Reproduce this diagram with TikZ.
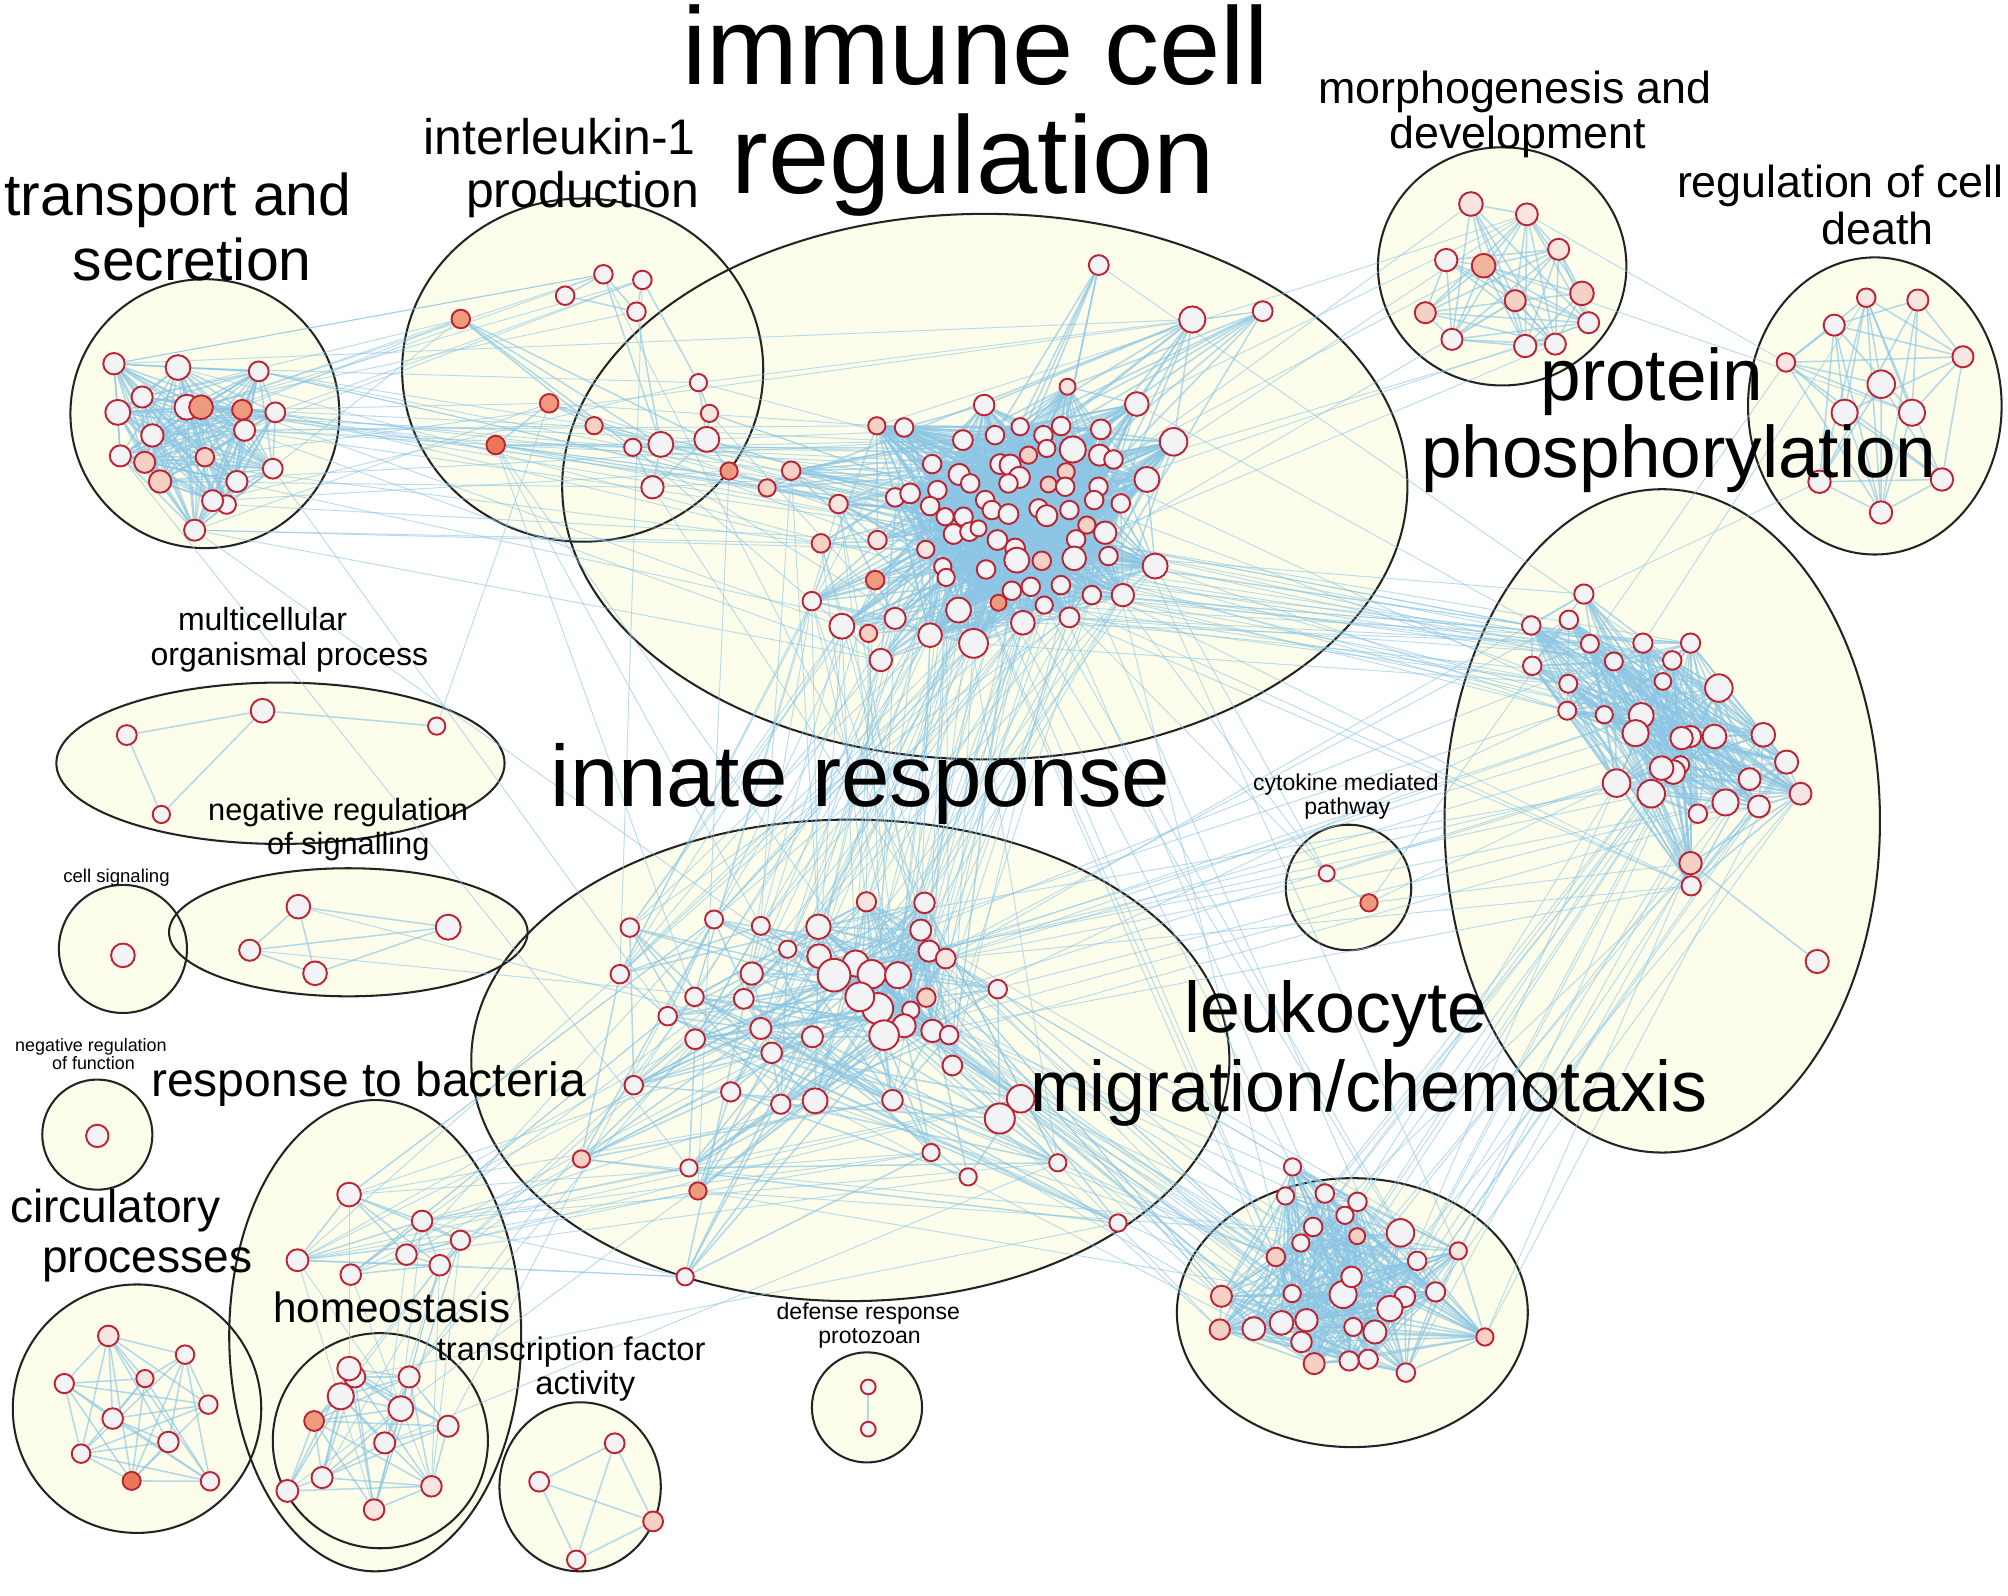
\documentclass[tikz,border=0pt]{standalone}
\usepackage{fontspec}
\setmainfont{Liberation Sans}
\pgfdeclarelayer{bg}
\pgfdeclarelayer{edges}
\pgfsetlayers{bg,edges,main}
\definecolor{cream}{RGB}{253,253,236}
\definecolor{rim}{RGB}{190,35,52}
\definecolor{eblue}{RGB}{140,198,228}
\definecolor{ringc}{RGB}{35,35,35}
\definecolor{nw}{RGB}{243,243,246}
\definecolor{nq}{RGB}{248,228,224}
\definecolor{np}{RGB}{246,208,196}
\definecolor{nm}{RGB}{242,180,156}
\definecolor{no}{RGB}{238,155,125}
\definecolor{nd}{RGB}{232,120,88}
\newcommand\placenodes[2]{\foreach \x/\y/\r/\f [count=\i] in {#2}{\node[gn,minimum size=2*\r-0.5,fill=n\f] (#1\i) at (\x,\y) {};}}
\newcommand\intraedges[3]{\foreach \i in {1,...,#2}{\foreach \j in {1,...,#2}{\ifnum\j>\i\relax\pgfmathtruncatemacro\ok{rnd<#3?1:0}\ifnum\ok=1\relax\draw[iedge] (#1\i) -- (#1\j);\fi\fi}}}
\newcommand\periedges[4]{\foreach \i in {#2,...,#3}{\foreach \j in {1,...,#3}{\ifnum\j<\i\relax\pgfmathtruncatemacro\ok{rnd<#4?1:0}\ifnum\ok=1\relax\draw[iedge] (#1\i) -- (#1\j);\fi\fi}}}
\newcommand\crossedges[7]{\foreach \k in {1,...,#7}{\pgfmathrandominteger{\ia}{#2}{#3}\pgfmathrandominteger{\ib}{#5}{#6}\draw[xedge] (#1\ia) -- (#4\ib);}}
\begin{document}
\begin{tikzpicture}[x=1pt,y=-1pt,
  gn/.style={circle,draw=rim,line width=1.5pt,inner sep=0pt,fill=nw},
  iedge/.style={draw=eblue,line width=1.2pt,draw opacity=0.65},
  xedge/.style={draw=eblue,line width=0.75pt,draw opacity=0.6},
  clusfill/.style={fill=cream},
  clusring/.style={draw=ringc,line width=1.6pt},
  lbl/.style={anchor=base,inner sep=0pt,text=black}]
\pgfmathsetseed{7}
\useasboundingbox (0,0) rectangle (1568,1246);
\begin{pgfonlayer}{bg}
\fill[white] (0,0) rectangle (1568,1246);
\foreach \cx/\cy/\rx/\ry in {160/323/105/105, 455/289/141/134, 769/380/330/213, 1173/208/97/93, 1464/317/99/116, 1298/641/170/259, 219/596/175/63, 272/728/140/50, 96/741/50/50, 76/886/43/43, 293/1043/114/184, 297/1125/84/84, 107/1100/97/97, 453/1161/63/66, 677/1099/43/43, 1053/693/49/49, 664/828/296/188, 1056/1025/137/105}
  {\fill[clusfill] (\cx,\cy) ellipse [x radius=\rx, y radius=\ry];}
\foreach \cx/\cy/\rx/\ry in {160/323/105/105, 455/289/141/134, 769/380/330/213, 1173/208/97/93, 1464/317/99/116, 1298/641/170/259, 219/596/175/63, 272/728/140/50, 96/741/50/50, 76/886/43/43, 293/1043/114/184, 297/1125/84/84, 107/1100/97/97, 453/1161/63/66, 677/1099/43/43, 1053/693/49/49, 664/828/296/188, 1056/1025/137/105}
  {\draw[clusring] (\cx,\cy) ellipse [x radius=\rx, y radius=\ry];}
\end{pgfonlayer}
% ---------------- nodes
\placenodes{T}{89/284/8.6/w,139/287/9.9/w,202/290/8/w,111/310/8.5/w,92/322/10/w,146/318/10/w,157/318/9.5/o,189/320/8/o,215/322/8/w,191/336/8.5/w,119/340/9/w,160/357/7.5/p,94/356/8.5/w,113/361/8.5/p,125/376/9/p,213/366/8/w,177/394/7.5/w,185/376/8.5/w,166/391/8.5/w,152/414/8.5/w}
\placenodes{I}{359.8/249.1/7.5/o,441.3/230.9/7.5/w,471.2/214.2/7.5/w,501.6/218.6/7.5/w,497/243.4/7.5/w,545.4/298.8/7/w,554/322.8/7/q,428.8/314.9/7.5/o,463.9/332.4/7/p,387.1/347.5/7.5/d,494.1/349.3/7/w,516/347/10/w,551.9/343.1/10/w,569.3/367.8/7/o,509.5/380.5/9/w}
\placenodes{M}{768.5/316.3/8.3/w,887.7/315.5/9.5/w,706/333.8/7.5/w,751.9/343.7/8/w,777/339.8/7.5/w,796.6/333.2/7/w,814.8/339.8/7.5/w,828.6/332.7/7.5/w,837.7/351/10.5/w,859.6/335.3/8/w,916.4/345/11/w,727.9/362.4/7.5/w,749/370.5/8.5/w,757.6/377.5/7.5/w,781/362.4/8/w,788.8/363.2/8.5/w,803.1/355.4/7/p,796/372.8/8.5/w,787.5/377.5/7.5/w,817.4/350.2/7/w,832.5/368.4/7/p,818.8/378.3/6.5/p,831.8/380.1/7.5/w,858.6/355.4/8.5/w,869.5/358.8/7.5/w,895.6/374.4/10/w,857.8/380.1/7.5/w,854.4/390.5/7.5/w,875.2/393.1/7.5/w,699/388.4/7.5/w,710.7/385.3/8/w,732/382.7/7.5/w,726.3/395.2/7.5/w,769.3/390.5/7.5/w,774.5/398.3/7.5/w,787.5/401.4/8/w,811/397/7.5/w,817.4/402.7/8.5/w,835.1/398.3/7.5/w,848.7/410/7/p,863/416/9/w,722.9/429/7/q,738/403.5/7/w,752.4/403.5/7.5/w,744.6/417/8/w,757/415.2/7.5/w,764.1/412.6/6.5/w,778.9/421.7/8/w,792.7/428.3/8/w,794/437.4/10/w,813.5/437.9/7.5/p,840.3/421.2/7.5/w,838.8/436/9.5/w,865.6/434.2/7.5/w,902/442/10/w,736.2/442.5/7/w,738.8/450.9/7/w,770/444.7/7.5/w,748.5/476.4/10/w,779.7/470.7/6.5/o,790.1/461.3/7.5/w,804.9/458.2/7.5/w,815.4/472.5/7/w,828.4/456.9/7.5/w,835.1/482.1/8/w,852.6/464.7/7.5/w,876.8/464.7/9/w,798.7/486.3/9.5/w,760.2/502.4/11.5/w,726.3/496/9.5/w,833.6/302/6.5/q,684.7/332.5/7/p,617.8/367.6/7.5/p,654.8/393.6/7.5/q,641/424.3/7.5/p,685.2/421.7/7.5/q,683.4/453/7.5/o,633.9/469.4/7.5/w,699/482.9/8.5/w,657.4/489/10/w,678.2/494.6/7/p,687.8/515.4/9/w,858/207/8/w,931/249.5/10.5/w,986/243/8/w,599/381/7/p}
\placenodes{G}{1148.6/159.3/9.5/q,1192.3/167.4/8.8/q,1129.3/203.1/9/w,1158.5/207.5/9.5/m,1217.1/194.7/8.5/q,1235.3/229.1/9.5/p,1183.2/234.8/8.5/p,1113/244.2/8.5/p,1240.5/252/8.5/w,1133.8/265/8.5/w,1191/270.2/9/w,1214.5/268.7/8.5/w}
\placenodes{D}{1457.3/232.5/7.5/q,1497.6/234.3/8.5/q,1432.3/253.9/8.5/w,1394.6/283/7.5/q,1532.8/278.6/8.5/q,1469/300/11/w,1440.4/322.3/10.5/w,1493/322.3/10.5/w,1420.8/376.2/9/w,1516.4/374.4/9/w,1468.8/400.2/9/w}
\placenodes{P}{1236.8/463.9/7.8/w,1195.7/488.4/7.5/w,1225.1/484/7.5/w,1241.5/502.7/7.3/w,1282.9/502.2/7.8/w,1320.1/502.2/7.8/w,1260.2/516.5/7.3/w,1305.8/515.7/7.5/w,1196.5/519.9/7.5/w,1224.6/533.9/7.3/w,1298.5/532.1/6.8/w,1342.2/537.3/11/w,1223.8/555/7.3/w,1252.7/558.1/7/w,1281.6/558.7/10/w,1277.2/572.5/10.5/w,1320.1/575.1/8.5/w,1313.1/576.4/9/w,1338.8/575.1/9.5/w,1376.9/573.8/9.5/w,1395.1/595.1/9.3/w,1312.3/597.2/7/w,1306.6/602.9/9.5/w,1297.5/599.8/9.5/w,1262.3/611.5/11/w,1289.4/619.8/11/w,1366.2/608.4/8.8/w,1406/619.8/8.8/q,1347.4/626.6/10.5/w,1373.5/629.7/8.8/w,1325.8/635.4/7.5/w,1320.1/674/9/p,1320.6/691.7/7.8/w,1419/750.8/9.3/w}
\placenodes{U}{99/574/8/w,205/555/9.5/w,341/567/7/w,126/636/7/w}
\placenodes{S}{233/708/9.5/w,195/742/8.5/w,246/760/9.5/w,350/724/10/w}
\placenodes{C}{96/746/9.5/w}
\placenodes{F}{76/887/9/w}
\placenodes{B}{272.6/932.8/9.5/w,329.6/953.4/8.3/w,359.5/968.5/7.8/w,232.3/984.1/8.8/w,317.4/979.7/8.3/w,343.4/988/8.3/w,273.9/995.3/8.3/w}
\placenodes{H}{277/1075.2/8.5/w,272.6/1068.7/9.5/w,319.5/1075.2/8.5/w,266.1/1090.3/10.5/w,313/1100/10/w,245.3/1109.6/8/o,349.9/1113.7/8.5/w,300.4/1126.7/8.5/w,251.5/1153.8/8.5/w,336.9/1160.6/8.3/q,224.4/1164.2/8.8/w,292.1/1178.8/8.3/q}
\placenodes{R}{84.6/1043.2/8.3/q,144.5/1057.8/7.5/w,50.2/1080.4/7.8/w,113.2/1076.5/7/q,162.7/1096.8/7.5/w,88/1107.7/8.3/w,131.5/1126/8.3/w,63.3/1135.1/7.5/w,102.8/1156.4/7.3/d,164/1156.7/7.5/w}
\placenodes{X}{480/1127/8/w,421/1157/8/w,510/1188/8/p,450/1218/7.5/w}
\placenodes{Z}{678/1083/6/w,678/1116/6/w}
\placenodes{Y}{1036/682/6.5/w,1069/705/7/o}
\placenodes{N}{639.6/746.6/9.5/w,639.1/723.7/9.8/w,668.2/752.4/10.5/w,680.7/760.7/11.3/w,701.3/761.5/10.5/w,651.3/761.5/13/w,685.4/787.5/12.3/w,671.4/778.4/11.5/w,711.2/788.8/7/w,706/801/9.3/w,690.4/808.3/11.8/w,719/726.3/8.5/w,725.5/742.7/8.5/w,738.5/748.5/8/q,723.4/779/7.5/p,676.6/704.2/7.8/q,721.9/705/8.3/w,728.1/805/9/w,741.1/808.3/7.5/w,491.8/724.3/7.5/w,557.6/718/7.3/w,594.1/723/7.3/w,615.1/741.2/7/w,484/760.7/7.5/w,587/760.2/9/w,542.3/778.4/7.5/w,580.8/780/8/w,779.1/772.4/7.5/w,521.4/793.5/7.5/w,594.1/803.1/8.5/w,542.8/811.5/8/w,634.4/809.6/8.5/w,602.6/822.1/8.3/w,743.7/832/8/w,494.9/847.4/7.5/w,570.6/852.6/7.8/w,609.7/862.2/7.8/w,636.5/859.6/10/w,696.9/859.1/8.3/w,797/858/11/w,780.7/873.4/12/w,454/905/7/p,538/912/7/w,545/930/7/o,535/997/7/w,727/900/7/w,756/919/7/w,826/908/7/w,873/955/7/w}
\placenodes{L}{1009.3/911.2/7/w,1003.8/933.9/7/w,1034.5/932/7.5/w,1060/938.5/7.5/w,1050.2/949/7/w,1025.4/958.1/7.5/w,1059.8/965.3/6.5/p,1093.6/962.7/11/w,1015.8/970.6/7/w,996.3/981.5/7.5/p,1106.6/984.6/7.5/w,1138.7/976.8/7/q,1048.8/1010.9/10.8/w,1009/1010.1/7/w,1055.4/997.1/8.3/w,953.8/1012.2/8.5/p,1121/1008.8/7.8/w,1097/1012.7/8.3/w,1085.3/1021.8/10.2/w,1020.2/1030.9/9/w,1000.7/1033/9.5/w,979.1/1037.5/9.2/w,952.5/1038.2/8.2/p,1056.7/1036.2/7.3/w,1073.6/1040.1/9.3/w,1159.5/1044/7/p,1016.3/1047.9/8.3/w,1026.2/1064.8/8.5/p,1053.5/1062.7/7.8/w,1068.4/1061.4/7.8/w,1097.8/1071.8/7.5/w}
% ---------------- edges
\begin{pgfonlayer}{edges}
\crossedges{M}{56}{82}{N}{1}{27}{85}
\crossedges{M}{1}{72}{N}{1}{49}{20}
\crossedges{M}{41}{70}{P}{1}{13}{30}
\crossedges{M}{1}{86}{P}{1}{33}{10}
\crossedges{N}{1}{19}{L}{1}{31}{32}
\crossedges{N}{28}{49}{L}{1}{31}{12}
\crossedges{L}{1}{31}{P}{20}{33}{26}
\crossedges{N}{1}{19}{P}{1}{33}{18}
\crossedges{B}{1}{7}{N}{20}{49}{30}
\crossedges{H}{1}{12}{B}{1}{7}{16}
\crossedges{H}{1}{12}{N}{20}{49}{6}
\crossedges{T}{1}{20}{I}{1}{15}{26}
\crossedges{T}{1}{20}{M}{72}{86}{14}
\crossedges{T}{1}{20}{M}{1}{72}{8}
\crossedges{I}{6}{15}{M}{1}{86}{34}
\crossedges{I}{1}{15}{N}{1}{49}{7}
\crossedges{G}{1}{12}{M}{1}{86}{9}
\crossedges{D}{1}{11}{G}{1}{12}{2}
\crossedges{D}{1}{11}{P}{1}{12}{3}
\crossedges{Y}{1}{2}{P}{1}{33}{4}
\crossedges{Y}{1}{2}{M}{40}{70}{3}
\crossedges{Y}{1}{2}{N}{1}{19}{2}
\crossedges{L}{1}{31}{M}{40}{72}{10}
\crossedges{T}{1}{20}{N}{20}{49}{3}
\crossedges{S}{1}{4}{N}{20}{35}{2}
\draw[xedge] (U3) -- (I8);
\intraedges{T}{20}{0.95}
\foreach \a/\b in {2/3,2/5,3/5,4/5,4/6,3/12,1/9,1/11,1/12,1/13,8/10,8/12,9/12,11/12,12/13,13/7,7/6,12/15,13/15,11/15,13/14,6/13,5/12,8/9,10/12}
  {\draw[iedge] (I\a) -- (I\b);}
\intraedges{M}{72}{0.45}
\periedges{M}{73}{86}{0.12}
\intraedges{G}{12}{0.85}
\intraedges{D}{11}{0.6}
\intraedges{P}{31}{0.6}
\periedges{P}{32}{33}{0.5}
\draw[iedge] (P34) -- (P32);
\foreach \a/\b in {1/2,2/3,1/4,2/4} {\draw[iedge] (U\a) -- (U\b);}
\intraedges{S}{4}{1.1}
\intraedges{B}{7}{0.7}
\intraedges{H}{12}{0.6}
\intraedges{R}{10}{0.85}
\intraedges{X}{4}{1.1}
\draw[iedge] (Z1) -- (Z2);
\draw[iedge] (Y1) -- (Y2);
\intraedges{N}{19}{0.75}
\periedges{N}{20}{49}{0.17}
\intraedges{L}{31}{0.7}
\end{pgfonlayer}
% ---------------- labels
\node[lbl,font=\fontsize{86}{90}\selectfont] (Limm1) at (762,66) {immune cell};
\node[lbl,font=\fontsize{86}{90}\selectfont] (Limm2) at (760,151) {regulation};
\node[lbl,font=\fontsize{46}{50}\selectfont] (Ltra1) at (139,168) {transport and};
\node[lbl,font=\fontsize{46}{50}\selectfont] (Ltra2) at (150,219) {secretion};
\node[lbl,font=\fontsize{39}{42}\selectfont] (Lil1) at (437,121) {interleukin-1};
\node[lbl,font=\fontsize{39}{42}\selectfont] (Lil2) at (455,162) {production};
\node[lbl,font=\fontsize{35}{38}\selectfont] (Lmor1) at (1183,81) {morphogenesis and};
\node[lbl,font=\fontsize{35}{38}\selectfont] (Lmor2) at (1185,116) {development};
\node[lbl,font=\fontsize{35}{38}\selectfont] (Ldea1) at (1437,154) {regulation of cell};
\node[lbl,font=\fontsize{35}{38}\selectfont] (Ldea2) at (1466,191) {death};
\node[lbl,font=\fontsize{57}{60}\selectfont] (Lpro1) at (1290,313) {protein};
\node[lbl,font=\fontsize{57}{60}\selectfont] (Lpro2) at (1311,373) {phosphorylation};
\node[lbl,font=\fontsize{25}{28}\selectfont] (Lmul1) at (205,492) {multicellular};
\node[lbl,font=\fontsize{25}{28}\selectfont] (Lmul2) at (226,520) {organismal process};
\node[lbl,font=\fontsize{24}{27}\selectfont] (Lneg1) at (264,641) {negative regulation};
\node[lbl,font=\fontsize{24}{27}\selectfont] (Lneg2) at (272,667) {of signalling};
\node[lbl,font=\fontsize{14.5}{16}\selectfont] (Lcel) at (91,689) {cell signaling};
\node[lbl,font=\fontsize{14}{15}\selectfont] (Lfun1) at (71,821) {negative regulation};
\node[lbl,font=\fontsize{14}{15}\selectfont] (Lfun2) at (73,835) {of function};
\node[lbl,font=\fontsize{37.5}{40}\selectfont] (Lbac) at (288,856) {response to bacteria};
\node[lbl,font=\fontsize{36}{40}\selectfont] (Lcir1) at (90,955) {circulatory};
\node[lbl,font=\fontsize{36}{40}\selectfont] (Lcir2) at (115,994) {processes};
\node[lbl,font=\fontsize{33}{36}\selectfont] (Lhom) at (306,1033) {homeostasis};
\node[lbl,font=\fontsize{25.5}{28}\selectfont] (Ltf1) at (446,1062) {transcription factor};
\node[lbl,font=\fontsize{25.5}{28}\selectfont] (Ltf2) at (457,1089) {activity};
\node[lbl,font=\fontsize{18}{20}\selectfont] (Ldef1) at (678,1030) {defense response};
\node[lbl,font=\fontsize{18}{20}\selectfont] (Ldef2) at (679,1049) {protozoan};
\node[lbl,font=\fontsize{18}{20}\selectfont] (Lcyt1) at (1051,617) {cytokine mediated};
\node[lbl,font=\fontsize{18}{20}\selectfont] (Lcyt2) at (1052,636) {pathway};
\node[lbl,font=\fontsize{68}{72}\selectfont] (Linn) at (672,630) {innate response};
\node[lbl,font=\fontsize{56}{60}\selectfont] (Lleu1) at (1043,806) {leukocyte};
\node[lbl,font=\fontsize{56}{60}\selectfont] (Lleu2) at (1069,868) {migration/chemotaxis};
\end{tikzpicture}
\end{document}
